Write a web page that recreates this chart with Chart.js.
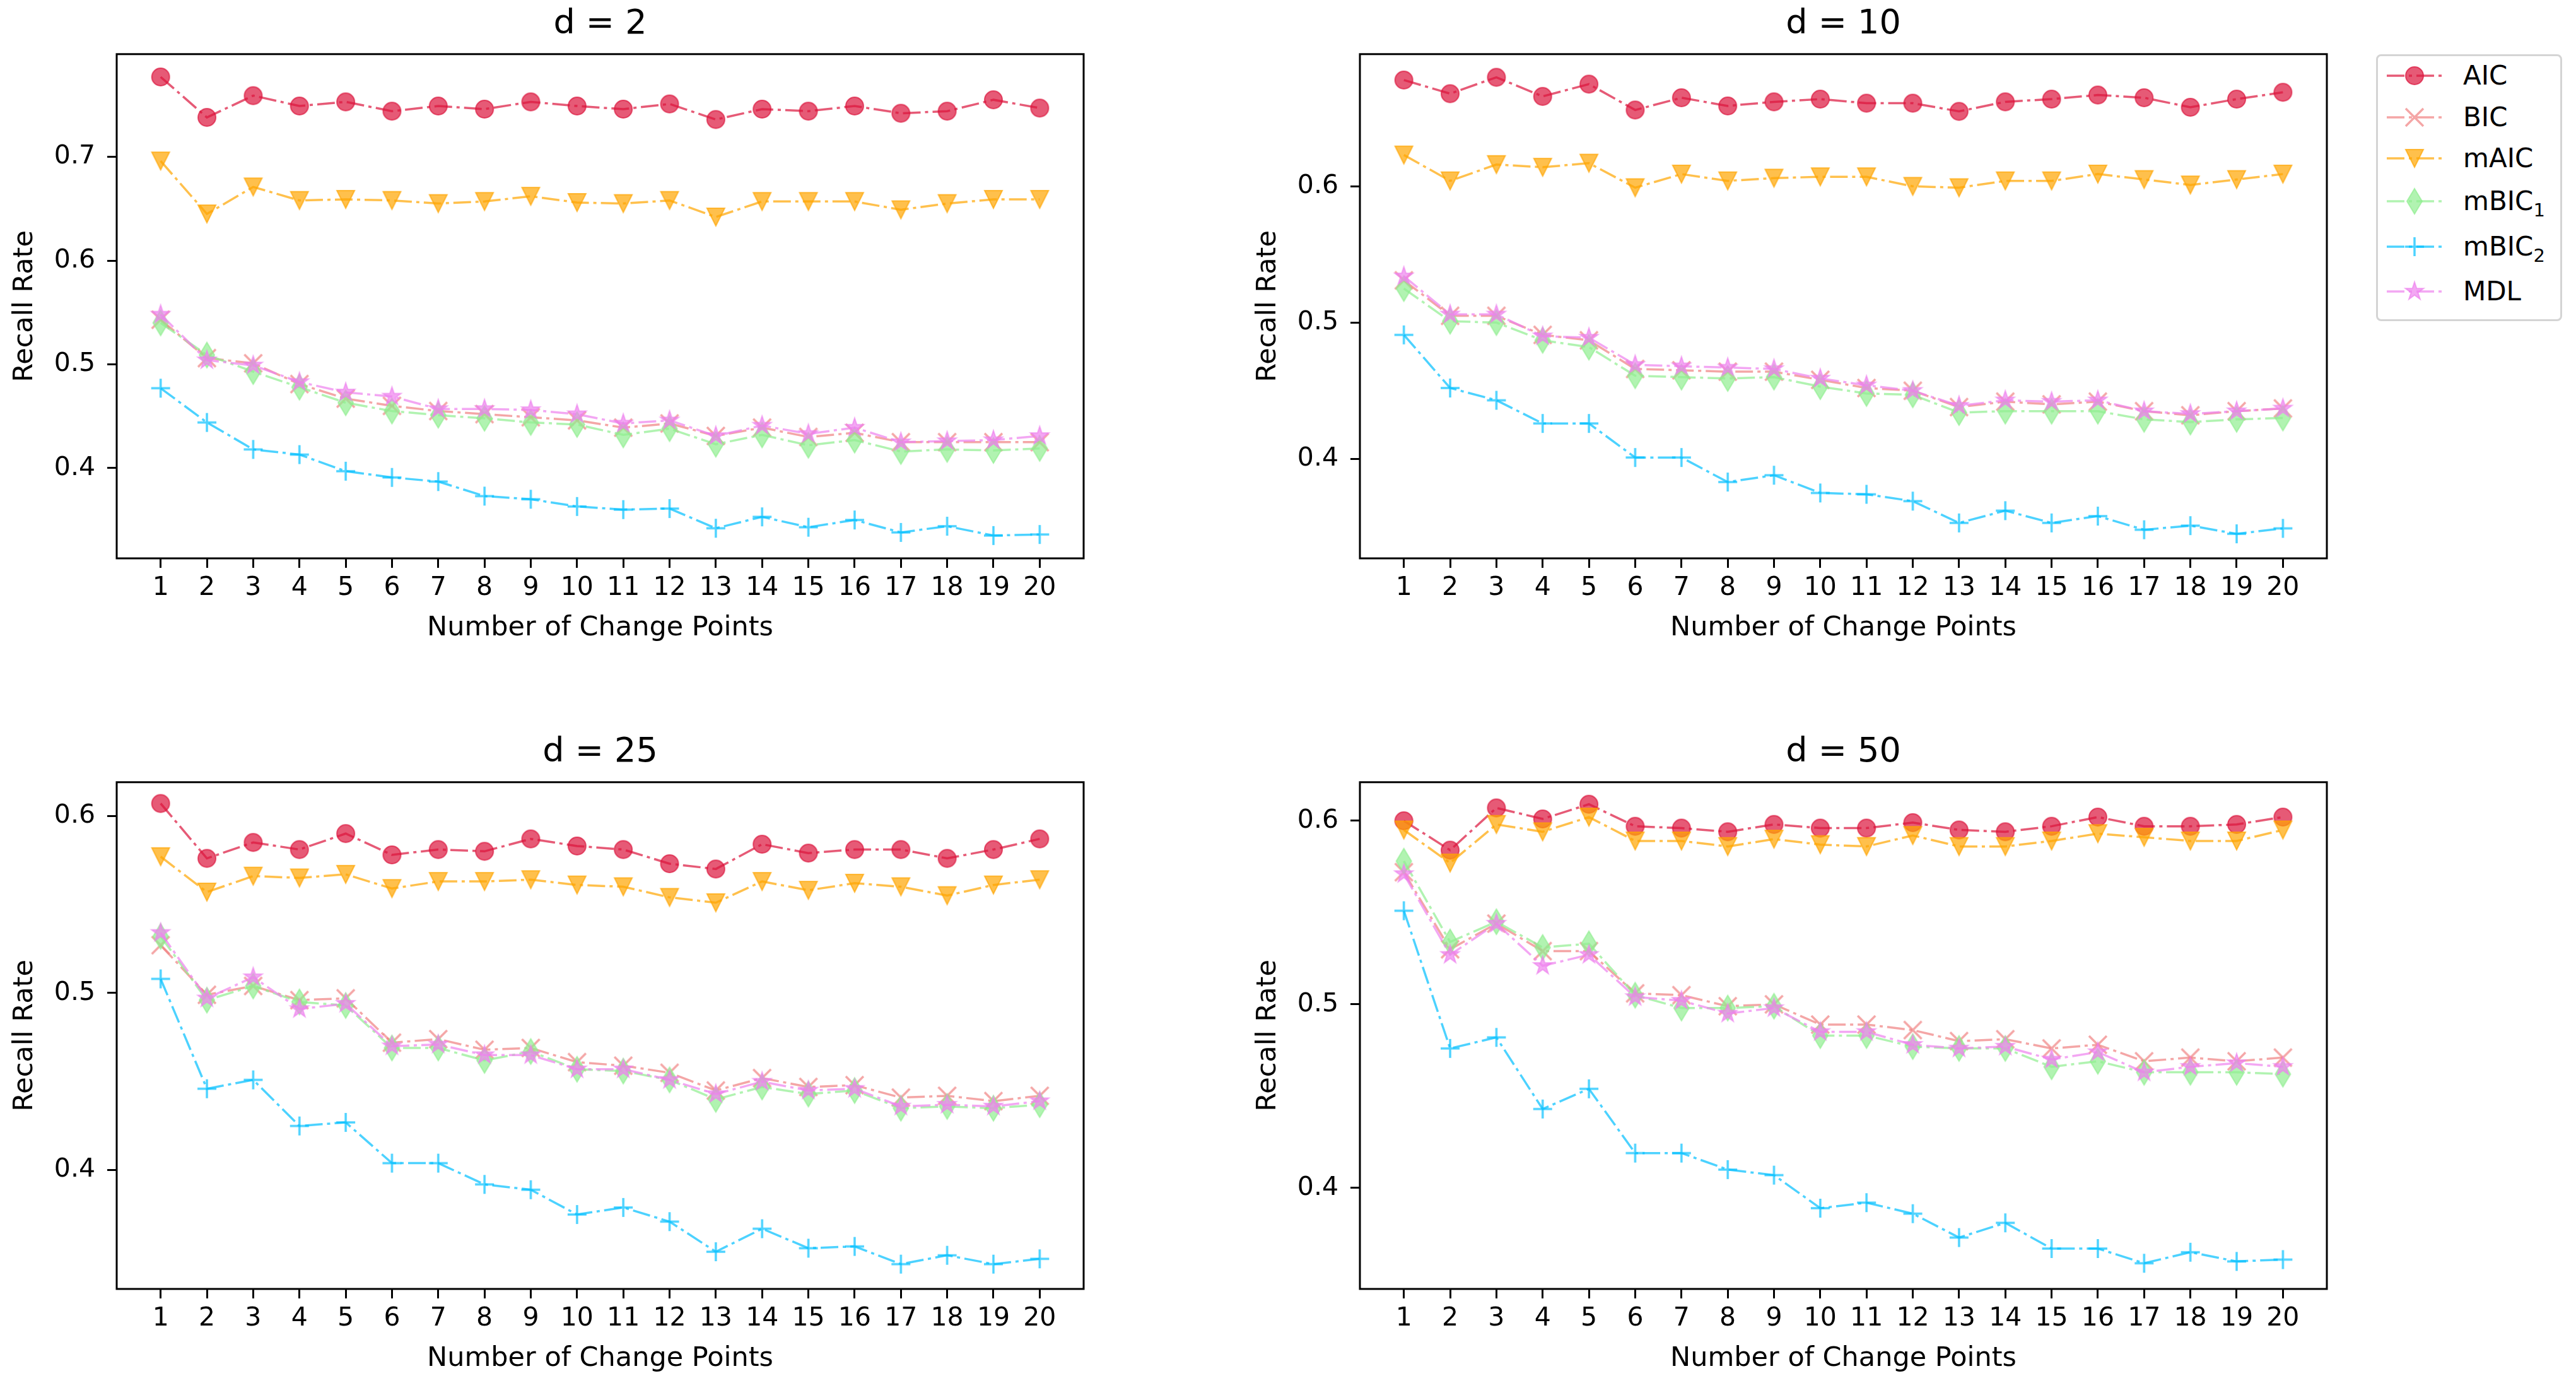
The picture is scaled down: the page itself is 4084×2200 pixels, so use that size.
<!DOCTYPE html>
<html>
<head>
<meta charset="utf-8">
<script src="https://cdn.jsdelivr.net/npm/chart.js@4.4.1/dist/chart.umd.min.js"></script>
<style>
  body { margin: 0; background: #fff; width: 4084px; height: 2200px; overflow: hidden; position: relative; font-family: "DejaVu Sans"; }
  canvas.panel { position: absolute; }
  #legend { position: absolute; left: 3767px; top: 86px; width: 289px; height: 417px; border: 3px solid #d4d4d4; border-radius: 8px; background: #fff; }
  .row { position: absolute; left: 0; width: 289px; height: 60px; }
  .row canvas { position: absolute; left: 12px; top: 0; }
  .row span.lab { position: absolute; left: 135px; top: 0; line-height: 60px; font-size: 42px; color: #000; white-space: nowrap; }
  .sub { font-size: 29px; position: relative; top: 10px; }
</style>
</head>
<body>
<div id="legend"></div>
<script>
// x axis: number of change points
const xTicks = [1, 2, 3, 4, 5, 6, 7, 8, 9, 10, 11, 12, 13, 14, 15, 16, 17, 18, 19, 20];

const methods = ["AIC", "BIC", "mAIC", "mBIC1", "mBIC2", "MDL"];

// d = 2
const d2AIC   = [0.777, 0.738, 0.759, 0.749, 0.753, 0.744, 0.749, 0.746, 0.753, 0.749, 0.746, 0.751, 0.736, 0.746, 0.744, 0.749, 0.742, 0.744, 0.755, 0.747];
const d2BIC   = [0.543, 0.506, 0.501, 0.481, 0.467, 0.460, 0.455, 0.452, 0.449, 0.446, 0.439, 0.443, 0.431, 0.439, 0.430, 0.434, 0.425, 0.425, 0.425, 0.425];
const d2mAIC  = [0.696, 0.645, 0.671, 0.658, 0.659, 0.658, 0.655, 0.657, 0.662, 0.656, 0.655, 0.658, 0.642, 0.657, 0.657, 0.657, 0.649, 0.655, 0.659, 0.659];
const d2mBIC1 = [0.540, 0.509, 0.493, 0.478, 0.463, 0.455, 0.451, 0.448, 0.444, 0.442, 0.432, 0.438, 0.423, 0.432, 0.422, 0.427, 0.416, 0.418, 0.417, 0.419];
const d2mBIC2 = [0.477, 0.444, 0.418, 0.413, 0.397, 0.391, 0.387, 0.373, 0.370, 0.363, 0.360, 0.361, 0.342, 0.353, 0.343, 0.350, 0.338, 0.344, 0.335, 0.336];
const d2MDL   = [0.548, 0.504, 0.499, 0.483, 0.473, 0.469, 0.457, 0.457, 0.456, 0.452, 0.443, 0.446, 0.431, 0.441, 0.433, 0.439, 0.425, 0.426, 0.427, 0.431];

// d = 10
const d10AIC   = [0.678, 0.668, 0.680, 0.666, 0.675, 0.656, 0.665, 0.659, 0.662, 0.664, 0.661, 0.661, 0.655, 0.662, 0.664, 0.667, 0.665, 0.658, 0.664, 0.669];
const d10BIC   = [0.531, 0.505, 0.505, 0.491, 0.487, 0.466, 0.465, 0.464, 0.464, 0.458, 0.452, 0.450, 0.438, 0.442, 0.440, 0.442, 0.435, 0.432, 0.435, 0.437];
const d10mAIC  = [0.623, 0.604, 0.616, 0.614, 0.617, 0.599, 0.609, 0.604, 0.606, 0.607, 0.607, 0.600, 0.599, 0.604, 0.604, 0.609, 0.605, 0.601, 0.605, 0.609];
const d10mBIC1 = [0.525, 0.501, 0.500, 0.487, 0.482, 0.461, 0.460, 0.459, 0.460, 0.453, 0.448, 0.447, 0.434, 0.435, 0.435, 0.435, 0.429, 0.427, 0.429, 0.430];
const d10mBIC2 = [0.491, 0.452, 0.443, 0.426, 0.426, 0.401, 0.401, 0.383, 0.388, 0.375, 0.374, 0.369, 0.353, 0.362, 0.353, 0.358, 0.348, 0.351, 0.345, 0.349];
const d10MDL   = [0.534, 0.506, 0.506, 0.490, 0.489, 0.469, 0.468, 0.467, 0.466, 0.459, 0.454, 0.450, 0.439, 0.443, 0.442, 0.443, 0.435, 0.433, 0.435, 0.437];

// d = 25
const d25AIC   = [0.607, 0.576, 0.585, 0.581, 0.590, 0.578, 0.581, 0.580, 0.587, 0.583, 0.581, 0.573, 0.570, 0.584, 0.579, 0.581, 0.581, 0.576, 0.581, 0.587];
const d25BIC   = [0.527, 0.499, 0.504, 0.496, 0.497, 0.472, 0.474, 0.468, 0.469, 0.461, 0.459, 0.455, 0.445, 0.452, 0.447, 0.448, 0.441, 0.442, 0.439, 0.442];
const d25mAIC  = [0.577, 0.557, 0.566, 0.565, 0.567, 0.559, 0.563, 0.563, 0.564, 0.561, 0.560, 0.554, 0.551, 0.563, 0.558, 0.562, 0.560, 0.555, 0.561, 0.564];
const d25mBIC1 = [0.532, 0.496, 0.504, 0.495, 0.493, 0.469, 0.469, 0.462, 0.467, 0.457, 0.456, 0.451, 0.440, 0.447, 0.443, 0.445, 0.435, 0.436, 0.435, 0.437];
const d25mBIC2 = [0.508, 0.446, 0.451, 0.425, 0.427, 0.404, 0.404, 0.392, 0.389, 0.375, 0.379, 0.371, 0.354, 0.367, 0.356, 0.357, 0.347, 0.352, 0.347, 0.350];
const d25MDL   = [0.534, 0.497, 0.509, 0.491, 0.494, 0.470, 0.471, 0.465, 0.465, 0.457, 0.457, 0.451, 0.443, 0.450, 0.445, 0.446, 0.436, 0.437, 0.436, 0.439];

// d = 50
const d50AIC   = [0.600, 0.584, 0.607, 0.601, 0.609, 0.597, 0.596, 0.594, 0.598, 0.596, 0.596, 0.599, 0.595, 0.594, 0.597, 0.602, 0.597, 0.597, 0.598, 0.602];
const d50BIC   = [0.572, 0.530, 0.544, 0.529, 0.529, 0.506, 0.505, 0.499, 0.500, 0.489, 0.489, 0.486, 0.480, 0.481, 0.476, 0.478, 0.469, 0.471, 0.469, 0.471];
const d50mAIC  = [0.595, 0.577, 0.598, 0.594, 0.602, 0.589, 0.589, 0.586, 0.590, 0.587, 0.586, 0.592, 0.586, 0.586, 0.589, 0.593, 0.591, 0.589, 0.589, 0.595];
const d50mBIC1 = [0.578, 0.534, 0.545, 0.531, 0.533, 0.505, 0.498, 0.498, 0.499, 0.483, 0.483, 0.477, 0.476, 0.476, 0.466, 0.469, 0.463, 0.463, 0.463, 0.462];
const d50mBIC2 = [0.551, 0.476, 0.482, 0.443, 0.454, 0.419, 0.419, 0.410, 0.407, 0.389, 0.392, 0.386, 0.373, 0.381, 0.367, 0.367, 0.359, 0.365, 0.360, 0.361];
const d50MDL   = [0.571, 0.527, 0.544, 0.521, 0.527, 0.504, 0.502, 0.495, 0.498, 0.485, 0.485, 0.478, 0.476, 0.477, 0.470, 0.474, 0.463, 0.466, 0.468, 0.466];

const panelTitles = ["d = 2", "d = 10", "d = 25", "d = 50"];
const panelSeries = [
  [d2AIC, d2BIC, d2mAIC, d2mBIC1, d2mBIC2, d2MDL],
  [d10AIC, d10BIC, d10mAIC, d10mBIC1, d10mBIC2, d10MDL],
  [d25AIC, d25BIC, d25mAIC, d25mBIC1, d25mBIC2, d25MDL],
  [d50AIC, d50BIC, d50mAIC, d50mBIC1, d50mBIC2, d50MDL],
];
const yTicks = [
  [0.4, 0.5, 0.6, 0.7],
  [0.4, 0.5, 0.6],
  [0.4, 0.5, 0.6],
  [0.4, 0.5, 0.6],
];
const yMin = [0.313, 0.327, 0.333, 0.345];
const yMax = [0.799, 0.697, 0.619, 0.621];

// styling
const rgbs = ["220,20,60", "240,128,128", "255,165,0", "144,238,144", "0,191,255", "238,130,238"];
const shapes = ["circle", "x", "tri", "thin", "plus", "star"];
const ALPHA = 0.7;
const DASH = [28, 7, 5, 7];
const FONT = "DejaVu Sans";

function makeMarker(shape, rgb) {
  const S = 48;
  const c = document.createElement("canvas");
  c.width = S; c.height = S;
  const g = c.getContext("2d");
  g.translate(S / 2, S / 2);
  const col = "rgba(" + rgb + "," + ALPHA + ")";
  g.fillStyle = col;
  g.strokeStyle = col;
  g.lineWidth = 2;
  g.beginPath();
  if (shape === "circle") {
    g.arc(0, 0, 14, 0, Math.PI * 2);
    g.fill(); g.stroke();
  } else if (shape === "tri") {
    g.moveTo(-14, -14); g.lineTo(14, -14); g.lineTo(0, 14); g.closePath();
    g.fill(); g.stroke();
  } else if (shape === "thin") {
    g.moveTo(0, -20); g.lineTo(12, 0); g.lineTo(0, 20); g.lineTo(-12, 0); g.closePath();
    g.fill(); g.stroke();
  } else if (shape === "star") {
    for (let k = 0; k < 10; k++) {
      const r = k % 2 === 0 ? 15 : 15 * 0.382;
      const a = -Math.PI / 2 + k * Math.PI / 5;
      const px = r * Math.cos(a), py = r * Math.sin(a);
      if (k === 0) g.moveTo(px, py); else g.lineTo(px, py);
    }
    g.closePath();
    g.fill(); g.stroke();
  } else if (shape === "x") {
    g.lineWidth = 3.5;
    g.moveTo(-14, -14); g.lineTo(14, 14);
    g.moveTo(14, -14); g.lineTo(-14, 14);
    g.stroke();
  } else if (shape === "plus") {
    g.lineWidth = 3.5;
    g.moveTo(-15, 0); g.lineTo(15, 0);
    g.moveTo(0, -15); g.lineTo(0, 15);
    g.stroke();
  }
  return c;
}

const markers = shapes.map((s, i) => makeMarker(s, rgbs[i]));

const boxPlugin = {
  id: "axesBox",
  afterDatasetsDraw(chart) {
    const { ctx, chartArea: a } = chart;
    ctx.save();
    ctx.strokeStyle = "#000";
    ctx.lineWidth = 3;
    ctx.strokeRect(a.left, a.top, a.right - a.left, a.bottom - a.top);
    ctx.restore();
  }
};

Chart.defaults.font.family = FONT;
Chart.defaults.color = "#000";

const placements = [
  { left: 0, top: 0, h: 1025 },
  { left: 1971, top: 0, h: 1025 },
  { left: 0, top: 1154, h: 1029 },
  { left: 1971, top: 1154, h: 1029 },
];

panelTitles.forEach((title, p) => {
  const cv = document.createElement("canvas");
  cv.className = "panel";
  cv.width = 1738; cv.height = placements[p].h;
  cv.style.left = placements[p].left + "px";
  cv.style.top = placements[p].top + "px";
  cv.style.width = cv.width + "px";
  cv.style.height = cv.height + "px";
  document.body.appendChild(cv);

  const datasets = methods.map((m, i) => ({
    label: m,
    data: panelSeries[p][i].map((y, k) => ({ x: xTicks[k], y: y })),
    borderColor: "rgba(" + rgbs[i] + "," + ALPHA + ")",
    backgroundColor: "rgba(" + rgbs[i] + "," + ALPHA + ")",
    borderWidth: 3.5,
    borderDash: DASH,
    pointStyle: markers[i],
    pointRadius: 14,
    tension: 0,
    fill: false,
    order: methods.length - 1 - i
  }));

  new Chart(cv, {
    type: "line",
    data: { datasets },
    plugins: [boxPlugin],
    options: {
      responsive: false,
      animation: false,
      devicePixelRatio: 1,
      layout: { padding: { left: 0, right: 20, top: 0, bottom: 0 } },
      plugins: {
        legend: { display: false },
        tooltip: { enabled: false },
        title: {
          display: true,
          text: title,
          fullSize: false,
          color: "#000",
          font: { family: FONT, size: 54, weight: "normal", lineHeight: 1.2 },
          padding: { top: 7, bottom: 14 }
        }
      },
      scales: {
        x: {
          type: "linear",
          min: 0.05,
          max: 20.95,
          afterBuildTicks: s => { s.ticks = xTicks.map(v => ({ value: v })); },
          afterFit: s => { s.height = 140; },
          ticks: { autoSkip: false, maxRotation: 0, padding: 8, font: { size: 41 }, color: "#000", callback: v => String(v) },
          grid: { display: true, drawOnChartArea: false, drawTicks: true, tickLength: 15, tickWidth: 3, tickColor: "#000" },
          border: { display: false },
          title: { display: true, text: "Number of Change Points", color: "#000", font: { size: 43, lineHeight: 1.2 }, padding: { top: 0, bottom: 3 } }
        },
        y: {
          type: "linear",
          min: yMin[p],
          max: yMax[p],
          afterBuildTicks: s => { s.ticks = yTicks[p].map(v => ({ value: v })); },
          afterFit: s => { s.width = 185; },
          ticks: { padding: 19, font: { size: 41 }, color: "#000", callback: v => v.toFixed(1) },
          grid: { display: true, drawOnChartArea: false, drawTicks: true, tickLength: 15, tickWidth: 3, tickColor: "#000" },
          border: { display: false },
          title: { display: true, text: "Recall Rate", color: "#000", font: { size: 43, lineHeight: 1.2 }, padding: { top: 14, bottom: 0 } }
        }
      }
    }
  });
});

// legend
const legendLabels = ["AIC", "BIC", "mAIC", "mBIC<span class=\"sub\">1</span>", "mBIC<span class=\"sub\">2</span>", "MDL"];
const rowCenters = [34, 100, 165, 233, 305, 376];
const legend = document.getElementById("legend");
methods.forEach((m, i) => {
  const row = document.createElement("div");
  row.className = "row";
  row.style.top = (rowCenters[i] - 3 - 30) + "px";
  const ic = document.createElement("canvas");
  ic.width = 92; ic.height = 60;
  const g = ic.getContext("2d");
  g.strokeStyle = "rgba(" + rgbs[i] + "," + ALPHA + ")";
  g.lineWidth = 3.5;
  g.setLineDash(DASH);
  g.beginPath(); g.moveTo(2, 30); g.lineTo(90, 30); g.stroke();
  g.drawImage(markers[i], 46 - markers[i].width / 2, 30 - markers[i].height / 2);
  row.appendChild(ic);
  const sp = document.createElement("span");
  sp.className = "lab";
  sp.innerHTML = legendLabels[i];
  row.appendChild(sp);
  legend.appendChild(row);
});
</script>
</body>
</html>
